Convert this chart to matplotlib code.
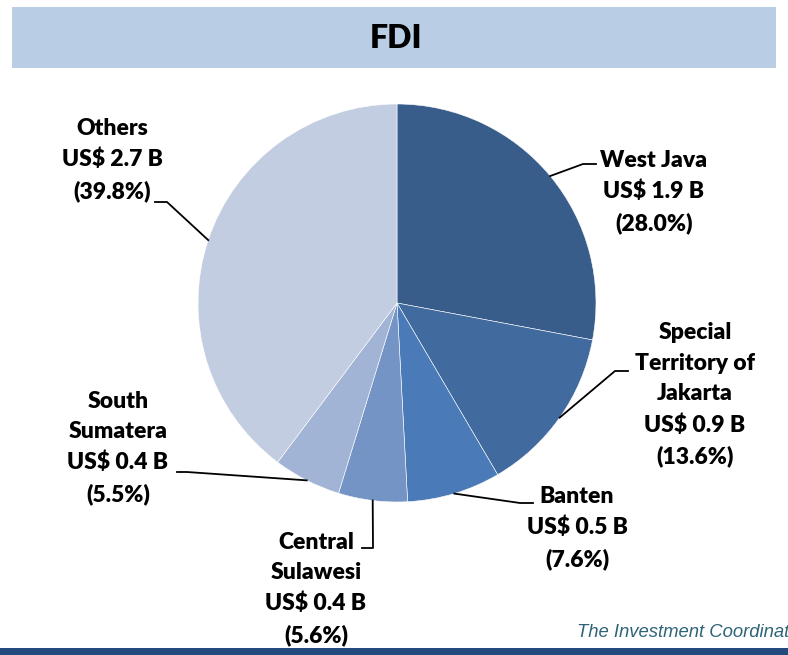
import numpy as np
import matplotlib.pyplot as plt

# FDI by region (US$ billion, share %)
regions = ['West Java', 'Special\nTerritory of\nJakarta', 'Banten',
           'Central\nSulawesi', 'South\nSumatera', 'Others']
values_busd = [1.9, 0.9, 0.5, 0.4, 0.4, 2.7]
shares = [28.0, 13.6, 7.6, 5.6, 5.5, 39.8]
colors = ['#385d8a', '#416a9f', '#4a7ab7', '#7494c6', '#a2b4d6', '#c3cde2']

W, H = 788, 655
cx, cy, r = 397, 303, 199

# label centre (px) and leader elbow / end (px), screen coords (y down)
label_xy = [(654, 192), (695, 395), (577, 528), (316, 589), (118, 448), (112, 160)]
elbows = [((583, 164), (596, 164)),
          ((615, 371), (628, 371)),
          ((520, 503), (533, 503)),
          ((373, 548), (362, 548)),
          ((187, 472), (177, 472)),
          ((167, 202), (155, 202))]

def Y(y):
    return H - y

fig = plt.figure(figsize=(W / 100, H / 100), dpi=100)
ax = fig.add_axes([0, 0, 1, 1])

wedges, _ = ax.pie(shares, colors=colors, startangle=90, counterclock=False,
                   center=(cx, Y(cy)), radius=r,
                   wedgeprops=dict(edgecolor='white', linewidth=0.4))
ax.set_xlim(0, W)
ax.set_ylim(0, H)
ax.set_aspect('equal')
ax.axis('off')

font = dict(family=['Lato', 'DejaVu Sans'], fontweight='heavy', fontsize=16.5)

for i, w in enumerate(wedges):
    ang = np.deg2rad((w.theta1 + w.theta2) / 2)
    px = cx + r * np.cos(ang)
    py = cy - r * np.sin(ang)
    (ex, ey), (tx, ty) = elbows[i]
    ax.plot([px, ex, tx], [Y(py), Y(ey), Y(ty)], color='black', lw=1.3)
    txt = '%s\nUS$ %.1f B\n(%.1f%%)' % (regions[i], values_busd[i], shares[i])
    lx, ly = label_xy[i]
    ax.text(lx, Y(ly), txt, ha='center', va='center', multialignment='center',
            linespacing=1.56, **font)

# title banner
ax.add_patch(plt.Rectangle((12, Y(68)), 764, 61, facecolor='#b9cde4',
                           edgecolor='none'))
ax.text(396, Y(38), 'FDI', ha='center', va='center',
        family=['Lato', 'DejaVu Sans'], fontweight='heavy', fontsize=23)

# footer
ax.add_patch(plt.Rectangle((0, 0), W, 7, facecolor='#224a7e', edgecolor='none'))
ax.text(577, Y(637), 'The Investment Coordinat', ha='left', va='baseline',
        family=['Liberation Sans', 'DejaVu Sans'], style='italic',
        fontsize=13.3, color='#2f6478')

fig.savefig('out.png', dpi=100)
